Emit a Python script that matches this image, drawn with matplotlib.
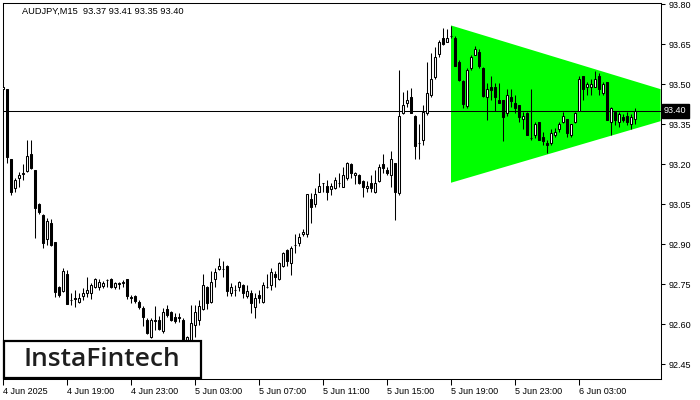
import matplotlib
matplotlib.use("Agg")
import matplotlib.pyplot as plt
from matplotlib.patches import Rectangle, Polygon
import numpy as np

# ---- data (AUDJPY M15) ----
opens = [93.481, 93.481, 93.219, 93.110, 93.148, 93.163, 93.174, 93.238, 93.178, 93.050,
         93.009, 92.919, 92.979, 92.908, 92.739, 92.724, 92.788, 92.690, 92.698, 92.683,
         92.705, 92.716, 92.716, 92.739, 92.739, 92.743, 92.765, 92.769, 92.739, 92.754,
         92.754, 92.769, 92.701, 92.705, 92.683, 92.660, 92.615, 92.551, 92.615, 92.615,
         92.574, 92.656, 92.645, 92.626, 92.626, 92.615, 92.540, 92.540, 92.596, 92.615,
         92.656, 92.739, 92.683, 92.769, 92.806, 92.806, 92.818, 92.716, 92.728, 92.739,
         92.746, 92.705, 92.716, 92.664, 92.709, 92.683, 92.739, 92.746, 92.788, 92.769,
         92.818, 92.878, 92.829, 92.896, 92.904, 92.938, 92.938, 93.069, 93.050, 93.095,
         93.129, 93.118, 93.106, 93.110, 93.129, 93.114, 93.148, 93.200, 93.159, 93.159,
         93.136, 93.110, 93.129, 93.095, 93.136, 93.200, 93.178, 93.159, 93.204, 93.091,
         93.391, 93.429, 93.451, 93.380, 93.279, 93.290, 93.391, 93.459, 93.526, 93.613,
         93.673, 93.658, 93.680, 93.673, 93.583, 93.511, 93.418, 93.560, 93.609, 93.620,
         93.560, 93.451, 93.489, 93.489, 93.440, 93.440, 93.391, 93.451, 93.429, 93.421,
         93.369, 93.391, 93.298, 93.309, 93.358, 93.301, 93.279, 93.279, 93.309, 93.331,
         93.358, 93.369, 93.309, 93.358, 93.399, 93.530, 93.489, 93.489, 93.489, 93.530,
         93.466, 93.508, 93.358, 93.395, 93.358, 93.376, 93.380, 93.350, 93.370]
highs = [93.504, 93.481, 93.219, 93.148, 93.170, 93.200, 93.290, 93.290, 93.178, 93.054,
         93.013, 92.998, 92.994, 92.908, 92.743, 92.810, 92.803, 92.716, 92.728, 92.716,
         92.735, 92.776, 92.754, 92.773, 92.769, 92.761, 92.769, 92.773, 92.758, 92.758,
         92.765, 92.769, 92.709, 92.709, 92.690, 92.668, 92.623, 92.623, 92.668, 92.630,
         92.660, 92.671, 92.649, 92.641, 92.641, 92.623, 92.555, 92.671, 92.671, 92.690,
         92.788, 92.743, 92.799, 92.810, 92.848, 92.836, 92.821, 92.754, 92.746, 92.761,
         92.750, 92.746, 92.728, 92.716, 92.728, 92.758, 92.788, 92.810, 92.799, 92.833,
         92.870, 92.881, 92.893, 92.938, 92.941, 92.956, 93.088, 93.091, 93.110, 93.166,
         93.129, 93.140, 93.129, 93.151, 93.166, 93.189, 93.208, 93.204, 93.170, 93.163,
         93.140, 93.136, 93.159, 93.178, 93.200, 93.238, 93.189, 93.249, 93.204, 93.553,
         93.470, 93.478, 93.485, 93.384, 93.350, 93.421, 93.583, 93.616, 93.639, 93.665,
         93.710, 93.706, 93.718, 93.680, 93.590, 93.515, 93.560, 93.609, 93.643, 93.631,
         93.564, 93.504, 93.530, 93.504, 93.504, 93.440, 93.481, 93.481, 93.459, 93.421,
         93.395, 93.395, 93.481, 93.358, 93.358, 93.320, 93.290, 93.331, 93.335, 93.358,
         93.395, 93.369, 93.350, 93.395, 93.530, 93.530, 93.508, 93.519, 93.549, 93.541,
         93.508, 93.508, 93.414, 93.395, 93.395, 93.388, 93.395, 93.388, 93.410]
lows = [93.459, 93.204, 93.084, 93.095, 93.114, 93.140, 93.170, 93.181, 92.923, 93.013,
        92.885, 92.896, 92.893, 92.701, 92.701, 92.720, 92.675, 92.671, 92.664, 92.679,
        92.690, 92.701, 92.694, 92.735, 92.728, 92.735, 92.739, 92.735, 92.731, 92.731,
        92.739, 92.694, 92.679, 92.679, 92.656, 92.593, 92.563, 92.548, 92.578, 92.578,
        92.566, 92.626, 92.611, 92.604, 92.608, 92.521, 92.533, 92.536, 92.551, 92.596,
        92.653, 92.656, 92.679, 92.739, 92.803, 92.776, 92.705, 92.705, 92.705, 92.724,
        92.698, 92.698, 92.641, 92.623, 92.679, 92.679, 92.735, 92.728, 92.739, 92.765,
        92.814, 92.818, 92.784, 92.866, 92.893, 92.930, 92.926, 92.979, 93.039, 93.095,
        93.095, 93.065, 93.084, 93.106, 93.114, 93.114, 93.140, 93.148, 93.125, 93.125,
        93.076, 93.095, 93.095, 93.091, 93.133, 93.166, 93.159, 93.114, 92.990, 93.084,
        93.388, 93.414, 93.391, 93.219, 93.219, 93.271, 93.384, 93.451, 93.519, 93.601,
        93.646, 93.658, 93.673, 93.568, 93.511, 93.410, 93.410, 93.553, 93.609, 93.560,
        93.451, 93.365, 93.440, 93.399, 93.429, 93.286, 93.380, 93.414, 93.391, 93.358,
        93.331, 93.309, 93.290, 93.298, 93.290, 93.271, 93.241, 93.271, 93.301, 93.320,
        93.354, 93.301, 93.301, 93.354, 93.399, 93.440, 93.459, 93.459, 93.489, 93.459,
        93.459, 93.365, 93.309, 93.346, 93.339, 93.358, 93.346, 93.331, 93.350]
closes = [93.489, 93.226, 93.095, 93.140, 93.159, 93.166, 93.230, 93.185, 93.035, 93.020,
          92.904, 92.986, 92.896, 92.720, 92.709, 92.799, 92.675, 92.690, 92.694, 92.698,
          92.716, 92.728, 92.746, 92.769, 92.758, 92.754, 92.765, 92.739, 92.754, 92.750,
          92.758, 92.705, 92.698, 92.686, 92.664, 92.626, 92.566, 92.615, 92.611, 92.581,
          92.645, 92.634, 92.615, 92.611, 92.623, 92.533, 92.551, 92.604, 92.645, 92.668,
          92.746, 92.679, 92.758, 92.795, 92.818, 92.806, 92.724, 92.739, 92.728, 92.758,
          92.716, 92.724, 92.679, 92.698, 92.698, 92.746, 92.739, 92.795, 92.776, 92.829,
          92.866, 92.836, 92.885, 92.896, 92.926, 92.945, 93.088, 93.039, 93.088, 93.118,
          93.129, 93.095, 93.118, 93.140, 93.129, 93.159, 93.204, 93.166, 93.166, 93.129,
          93.114, 93.118, 93.110, 93.129, 93.189, 93.185, 93.166, 93.219, 93.095, 93.380,
          93.421, 93.440, 93.391, 93.268, 93.279, 93.395, 93.466, 93.519, 93.601, 93.658,
          93.650, 93.673, 93.680, 93.568, 93.515, 93.425, 93.553, 93.601, 93.631, 93.568,
          93.455, 93.481, 93.478, 93.451, 93.429, 93.376, 93.459, 93.436, 93.410, 93.376,
          93.380, 93.309, 93.298, 93.350, 93.290, 93.286, 93.271, 93.316, 93.320, 93.350,
          93.380, 93.316, 93.350, 93.391, 93.519, 93.481, 93.500, 93.500, 93.519, 93.481,
          93.500, 93.365, 93.410, 93.365, 93.388, 93.365, 93.358, 93.376, 93.400]

tick_index = [0, 16, 32, 48, 64, 80, 96, 112, 128, 144]
tick_labels = ["4 Jun 2025", "4 Jun 19:00", "4 Jun 23:00", "5 Jun 03:00", "5 Jun 07:00",
               "5 Jun 11:00", "5 Jun 15:00", "5 Jun 19:00", "5 Jun 23:00", "6 Jun 03:00"]
price_ticks = [93.80, 93.65, 93.50, 93.35, 93.20, 93.05, 92.90, 92.75, 92.60, 92.45]
current_price = 93.40
title_text = "AUDJPY,M15  93.37 93.41 93.35 93.40"

# symmetrical triangle pattern
tri_start = 112
tri_start_top, tri_start_bottom = 93.72, 93.13
tri_end = 164.4
tri_end_top, tri_end_bottom = 93.481, 93.361

FONT = "Liberation Sans"

fig = plt.figure(figsize=(7, 4), dpi=100)
fig.patch.set_facecolor("white")
W, H = 700, 400
ax = fig.add_axes([2.5 / W, 1 - 379 / H, (660.5 - 2.5) / W, (379 - 2.5) / H])

o = np.array(opens); h = np.array(highs); l = np.array(lows); c = np.array(closes)
x = np.arange(len(o))

ax.set_xlim(-0.125, 164.375)
ax.set_ylim(92.394, 93.806)

# triangle
tri = Polygon([(tri_start, tri_start_top), (tri_end, tri_end_top),
               (tri_end, tri_end_bottom), (tri_start, tri_start_bottom)],
              closed=True, facecolor="#00ff00", edgecolor="none", zorder=1)
ax.add_patch(tri)

ax.axhline(current_price, color="black", lw=0.75, zorder=2)

# wicks
ax.vlines(x, l, h, color="black", lw=0.75, zorder=3)
up = c >= o
body_bottom = np.minimum(o, c)
body_h = np.abs(c - o)
ax.bar(x[up], body_h[up], bottom=body_bottom[up], width=0.62,
       facecolor="white", edgecolor="black", linewidth=0.75, zorder=4)
ax.bar(x[~up], body_h[~up], bottom=body_bottom[~up], width=0.62,
       facecolor="black", edgecolor="black", linewidth=0.75, zorder=4)

for s in ax.spines.values():
    s.set_color("black")
    s.set_linewidth(0.75)

ax.set_xticks(tick_index)
ax.set_xticklabels(tick_labels, fontsize=6.5, family=FONT)
for lab in ax.get_xticklabels():
    lab.set_horizontalalignment("left")
ax.tick_params(axis="x", direction="out", length=4, width=0.75, pad=2)

ax.yaxis.tick_right()
ax.set_yticks(price_ticks)
ax.set_yticklabels([f"{v:.2f}" for v in price_ticks], fontsize=6.5, family=FONT)
ax.tick_params(axis="y", direction="out", length=3, width=0.75, pad=3)

# current price label
ax.text(1.0 + 3.5 / 658, current_price, f"{current_price:.2f}", transform=ax.get_yaxis_transform(),
        ha="left", va="center", fontsize=6.5, family=FONT, color="white",
        bbox=dict(boxstyle="square,pad=0.25", facecolor="black", edgecolor="black"),
        zorder=10, clip_on=False)

# title
ax.text(19 / 658, 1 - 8.5 / 376.5, title_text, transform=ax.transAxes, ha="left", va="center",
        fontsize=6.7, family=FONT, color="black")

# logo
fig.patches.append(Rectangle((3.5 / W, 1 - 377.5 / H), (200.5 - 3.5) / W, (377.5 - 341) / H,
                             transform=fig.transFigure, facecolor="white", edgecolor="black",
                             linewidth=1.6, zorder=20))
fig.text(101.5 / W, 1 - 359.5 / H, "InstaFintech", ha="center", va="center",
         fontsize=19, family="Open Sans", fontweight="semibold", color="#1e1e1e", zorder=21)

fig.savefig("out.png", dpi=100)
